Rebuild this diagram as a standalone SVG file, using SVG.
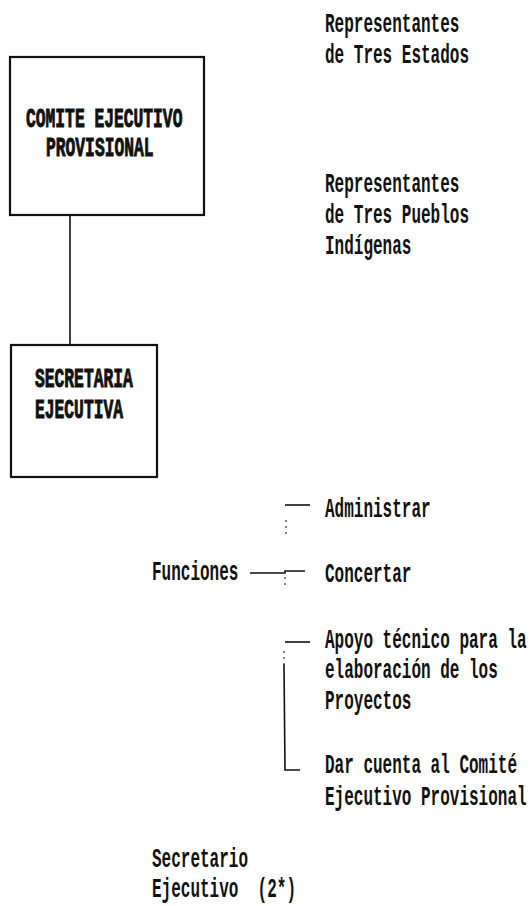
<svg xmlns="http://www.w3.org/2000/svg" width="532" height="906" viewBox="0 0 532 906">
<style>
text{font-family:"Liberation Mono","DejaVu Sans Mono",monospace;font-weight:bold;font-size:16px;fill:#111;}
.bx{font-size:16.3px;stroke:#111;stroke-width:0.6px;}
.box{fill:#fff;stroke:#111;stroke-width:2.2;}
.ln{fill:none;stroke:#111;stroke-width:1.6;}
.dot{fill:none;stroke:#333;stroke-width:1.2;stroke-dasharray:2 4;}
</style>
<rect width="532" height="906" fill="#fff"/>
<g id="connectors">
<line class="ln" x1="70" y1="215" x2="70" y2="345"/>
<line class="ln" x1="285" y1="505" x2="310" y2="505"/>
<line class="dot" x1="286" y1="520" x2="286" y2="537"/>
<polyline class="ln" points="250,573 285,573 285,571 305,571"/>
<line class="dot" x1="285" y1="577" x2="285" y2="586"/>
<line class="ln" x1="285" y1="642" x2="310" y2="642"/>
<line class="dot" x1="284" y1="651" x2="284" y2="664"/>
<polyline class="ln" points="284,664 285,770 300,770"/>
</g>
<g id="comite">
<rect class="box" x="10" y="57" width="194" height="158"/>
<text class="bx" transform="translate(26,127) scale(1,1.75)">COMITE EJECUTIVO</text>
<text class="bx" transform="translate(46,156) scale(1,1.75)">PROVISIONAL</text>
</g>
<g id="secretaria">
<rect class="box" x="11" y="345" width="146" height="132"/>
<text class="bx" transform="translate(35,387) scale(1,1.75)">SECRETARIA</text>
<text class="bx" transform="translate(35,418) scale(1,1.75)">EJECUTIVA</text>
</g>
<g id="estados">
<text transform="translate(325,32) scale(1,1.75)">Representantes</text>
<text transform="translate(325,63) scale(1,1.75)">de Tres Estados</text>
</g>
<g id="pueblos">
<text transform="translate(325,192) scale(1,1.75)">Representantes</text>
<text transform="translate(325,223) scale(1,1.75)">de Tres Pueblos</text>
<text transform="translate(325,254) scale(1,1.75)">Indígenas</text>
</g>
<g id="funciones">
<text transform="translate(152,580) scale(1,1.75)">Funciones</text>
</g>
<g id="administrar">
<text transform="translate(325,517) scale(1,1.75)">Administrar</text>
</g>
<g id="concertar">
<text transform="translate(325,582) scale(1,1.75)">Concertar</text>
</g>
<g id="apoyo">
<text transform="translate(325,648) scale(1,1.75)">Apoyo técnico para la</text>
<text transform="translate(325,678) scale(1,1.75)">elaboración de los</text>
<text transform="translate(325,709) scale(1,1.75)">Proyectos</text>
</g>
<g id="dar-cuenta">
<text transform="translate(325,773) scale(1,1.75)">Dar cuenta al Comité</text>
<text transform="translate(325,805) scale(1,1.75)">Ejecutivo Provisional</text>
</g>
<g id="secretario">
<text transform="translate(152,867) scale(1,1.75)">Secretario</text>
<text transform="translate(152,897) scale(1,1.75)" xml:space="preserve">Ejecutivo  (2*)</text>
</g>
</svg>
